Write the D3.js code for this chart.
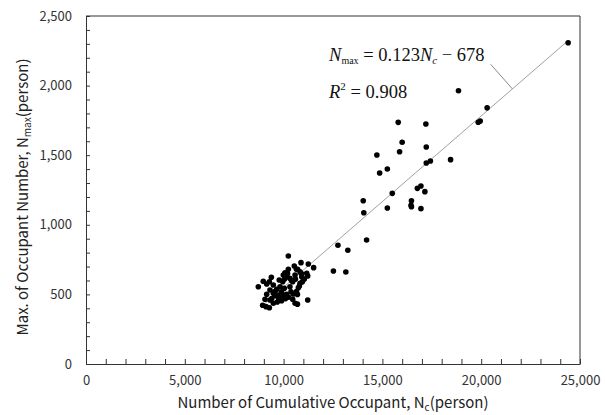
<!DOCTYPE html>
<html><head><meta charset="utf-8">
<script src="https://cdn.jsdelivr.net/npm/d3@7/dist/d3.min.js"></script>
<style>body{margin:0;background:#fff}</style></head>
<body>
<svg id="chart" width="605" height="415"></svg>
<script>
// Number of cumulative occupant, Nc (person)
const ncValues = [
  10240,10880,11250,11520,10540,10240,10070,9985,10710,10830,11170,11220,9380,8970,8720,9145,
  9780,10460,10920,10830,10745,10320,10375,10490,10460,10580,11220,9310,9480,9145,9060,9310,
  8940,9110,9280,9480,9680,9870,9730,9900,10035,9820,9650,9480,9280,10160,10320,9955,10580,
  9600,9750,10000,10150,10250,9900,10100,10650,10700,10800,10950,11050,10400,10600,10050,10200,10650,10900,9550,9400,10700,
  24400,18850,20300,19850,19950,15800,17200,16000,17220,15870,14720,17220,17430,18450,15250,14860,
  15500,16950,16770,17150,14030,16470,16450,16470,15250,16950,14060,14200,12750,13250,12520,13150
];
// Maximum occupant number, Nmax (person)
const nmaxValues = [
  776,728,718,692,704,680,656,639,680,663,652,632,623,594,555,575,
  603,591,627,580,548,555,519,503,465,436,460,532,508,501,465,460,
  422,412,404,436,445,472,496,519,544,555,537,568,591,627,616,591,639,
  490,470,490,500,480,455,470,520,500,560,590,610,600,610,610,650,680,650,520,470,430,
  2308,1963,1840,1737,1745,1736,1724,1593,1559,1525,1501,1444,1458,1468,1401,1372,
  1226,1279,1262,1238,1173,1173,1140,1130,1121,1116,1087,891,853,817,668,661
];
const xTickValues = [0,5000,10000,15000,20000,25000];
const yTickValues = [0,500,1000,1500,2000,2500];
const fitSlope = 0.123, fitIntercept = -678;
const fitRange = [8850, 24400];
const leaderFrom = [20480, 2153];
const leaderToX = 21580;
const eqAnchor = [12300, 2175];
const r2Anchor = [12300, 1910];

const W = 605, H = 415;
const margin = {left: 86, right: 25, top: 16, bottom: 51};
const svg = d3.select("#chart");
const x = d3.scaleLinear().domain([0, 25000]).range([margin.left, W - margin.right]);
const y = d3.scaleLinear().domain([0, 2500]).range([H - margin.bottom, margin.top]);
const sans = "'Noto Sans CJK KR', 'Noto Sans', sans-serif";
const axisColor = "#333";

// frame (top/right)
svg.append("path")
  .attr("d", `M${x(0)},${y(2500)}H${x(25000)}V${y(0)}`)
  .attr("fill", "none").attr("stroke", axisColor).attr("stroke-width", 1);

const fmt = d3.format(",");
const xAxis = d3.axisBottom(x)
  .tickValues(d3.range(0, 25001, 1000))
  .tickSizeInner(-5).tickSizeOuter(0).tickPadding(12)
  .tickFormat(d => xTickValues.includes(d) ? fmt(d) : "");
const gx = svg.append("g").attr("transform", `translate(0,${y(0)})`).call(xAxis);

const yAxis = d3.axisLeft(y)
  .tickValues(d3.range(0, 2501, 100))
  .tickSizeInner(-4).tickSizeOuter(0).tickPadding(14)
  .tickFormat(d => yTickValues.includes(d) ? fmt(d) : "");
const gy = svg.append("g").attr("transform", `translate(${x(0)},0)`).call(yAxis);

[gx, gy].forEach(g => {
  g.selectAll("path.domain").attr("stroke", axisColor);
  g.selectAll(".tick line").attr("stroke", axisColor);
  g.selectAll("text").attr("fill", "#333").style("font-family", sans).style("font-size", "13px");
});

// fit line
svg.append("line")
  .attr("x1", x(fitRange[0])).attr("y1", y(fitSlope * fitRange[0] + fitIntercept))
  .attr("x2", x(fitRange[1])).attr("y2", y(fitSlope * fitRange[1] + fitIntercept))
  .attr("stroke", "#a0a0a0").attr("stroke-width", 1);

// leader line
svg.append("line")
  .attr("x1", x(leaderFrom[0])).attr("y1", y(leaderFrom[1]))
  .attr("x2", x(leaderToX)).attr("y2", y(fitSlope * leaderToX + fitIntercept))
  .attr("stroke", "#888").attr("stroke-width", 1);

// points
svg.append("g").selectAll("circle")
  .data(ncValues.map((v, i) => [v, nmaxValues[i]]))
  .join("circle")
  .attr("cx", d => x(d[0])).attr("cy", d => y(d[1]))
  .attr("r", 2.8).attr("fill", "#000");

// equation
const serif = "'Liberation Serif', 'Times New Roman', serif";
const eq = svg.append("text")
  .attr("x", x(eqAnchor[0])).attr("y", y(eqAnchor[1]))
  .style("font-family", serif).style("font-size", "18.5px").attr("fill", "#111");
eq.append("tspan").attr("font-style", "italic").text("N");
eq.append("tspan").attr("font-size", "10px").attr("dy", 3).text("max");
eq.append("tspan").attr("dy", -3).text(" = 0.123");
eq.append("tspan").attr("font-style", "italic").text("N");
eq.append("tspan").attr("font-style", "italic").attr("font-size", "11px").attr("dy", 3).text("c");
eq.append("tspan").attr("dy", -3).text(" \u2212 678");

const r2 = svg.append("text")
  .attr("x", x(r2Anchor[0])).attr("y", y(r2Anchor[1]))
  .style("font-family", serif).style("font-size", "18.5px").attr("fill", "#111");
r2.append("tspan").attr("font-style", "italic").text("R");
r2.append("tspan").attr("font-size", "11px").attr("dy", -8).text("2");
r2.append("tspan").attr("dy", 8).text(" = 0.908");

// axis titles
const xt = svg.append("text")
  .attr("x", (x(0) + x(25000)) / 2 ).attr("y", 407.5)
  .attr("text-anchor", "middle")
  .style("font-family", sans).style("font-size", "15px").attr("fill", "#222");
xt.append("tspan").text("Number of Cumulative Occupant, N");
xt.append("tspan").attr("font-size", "10px").attr("dy", 3).text("c");
xt.append("tspan").attr("dy", -3).text("(person)");

const yt = svg.append("text")
  .attr("transform", `translate(28,${(y(0) + y(2500)) / 2 + 7}) rotate(-90)`)
  .attr("text-anchor", "middle")
  .style("font-family", sans).style("font-size", "15px").attr("fill", "#222");
yt.append("tspan").text("Max. of Occupant Number, N");
yt.append("tspan").attr("font-size", "10px").attr("dy", 3).text("max");
yt.append("tspan").attr("dy", -3).text("(person)");
</script>
</body></html>
